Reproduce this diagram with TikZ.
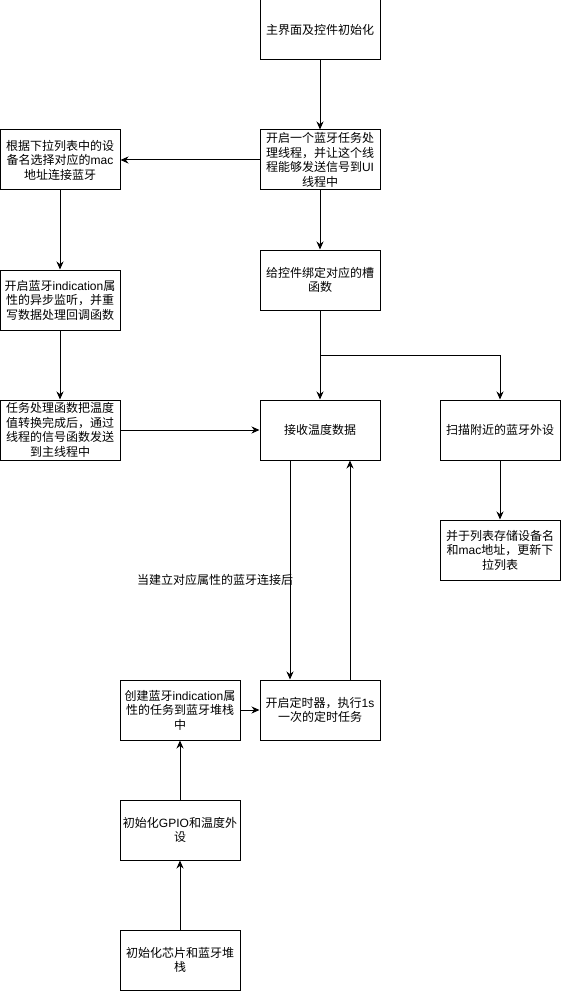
\documentclass[tikz,border=0pt]{standalone}
\usepackage{fontspec}
\setmainfont{Noto Sans CJK SC}
\newfontfamily\latinfont{Liberation Sans}
\newcommand{\lt}[1]{{\latinfont #1}}
\usetikzlibrary{arrows.meta}
\begin{document}
\begin{tikzpicture}[x=1pt,y=-1pt,
  box/.style={draw, line width=1pt, minimum width=120pt, minimum height=60pt, inner sep=0pt, align=center, font=\fontsize{12}{14.5}\selectfont},
  arr/.style={line width=1pt, -{Stealth[length=8pt,width=7pt]}},
  lbl/.style={font=\fontsize{12}{14.5}\selectfont, inner sep=0pt}]
\useasboundingbox (0,0) rectangle (561,992);
\node[box] (top) at (320,30) {主界面及控件初始化};
\node[box] (thread) at (320,160) {开启一个蓝牙任务处\\理线程，并让这个线\\程能够发送信号到\lt{UI}\\线程中};
\node[box] (bind) at (320,280) {给控件绑定对应的槽\\函数};
\node[box] (left1) at (60,160) {根据下拉列表中的设\\备名选择对应的\lt{mac}\\地址连接蓝牙};
\node[box] (left2) at (60,300) {开启蓝牙\lt{indication}属\\性的异步监听，并重\\写数据处理回调函数};
\node[box] (left3) at (60,430) {任务处理函数把温度\\值转换完成后，通过\\线程的信号函数发送\\到主线程中};
\node[box] (recv) at (320,430) {接收温度数据};
\node[box] (scan) at (500,430) {扫描附近的蓝牙外设};
\node[box] (store) at (500,550) {并于列表存储设备名\\和\lt{mac}地址，更新下\\拉列表};
\node[box] (timer) at (320,710) {开启定时器，执行\lt{1s}\\一次的定时任务};
\node[box] (create) at (180,710) {创建蓝牙\lt{indication}属\\性的任务到蓝牙堆栈\\中};
\node[box] (gpio) at (180,830) {初始化\lt{GPIO}和温度外\\设};
\node[box] (init) at (180,960) {初始化芯片和蓝牙堆\\栈};
\node[lbl] (cond) at (215,580) {当建立对应属性的蓝牙连接后};
\coordinate (j) at (320,355);
\draw[arr] (top) -- (thread);
\draw[arr] (thread) -- (left1);
\draw[arr] (thread) -- (bind);
\draw[arr] (left1) -- (left2);
\draw[arr] (left2) -- (left3);
\draw[arr] (left3) -- (recv);
\draw[arr] (bind) -- (recv);
\draw[arr] (bind.south) -- (j) -| (scan.north);
\draw[arr] (scan) -- (store);
\draw[arr] ([xshift=-30pt]recv.south) -- ([xshift=-30pt]timer.north);
\draw[arr] ([xshift=30pt]timer.north) -- ([xshift=30pt]recv.south);
\draw[arr] (create) -- (timer);
\draw[arr] (gpio) -- (create);
\draw[arr] (init) -- (gpio);
\end{tikzpicture}
\end{document}
